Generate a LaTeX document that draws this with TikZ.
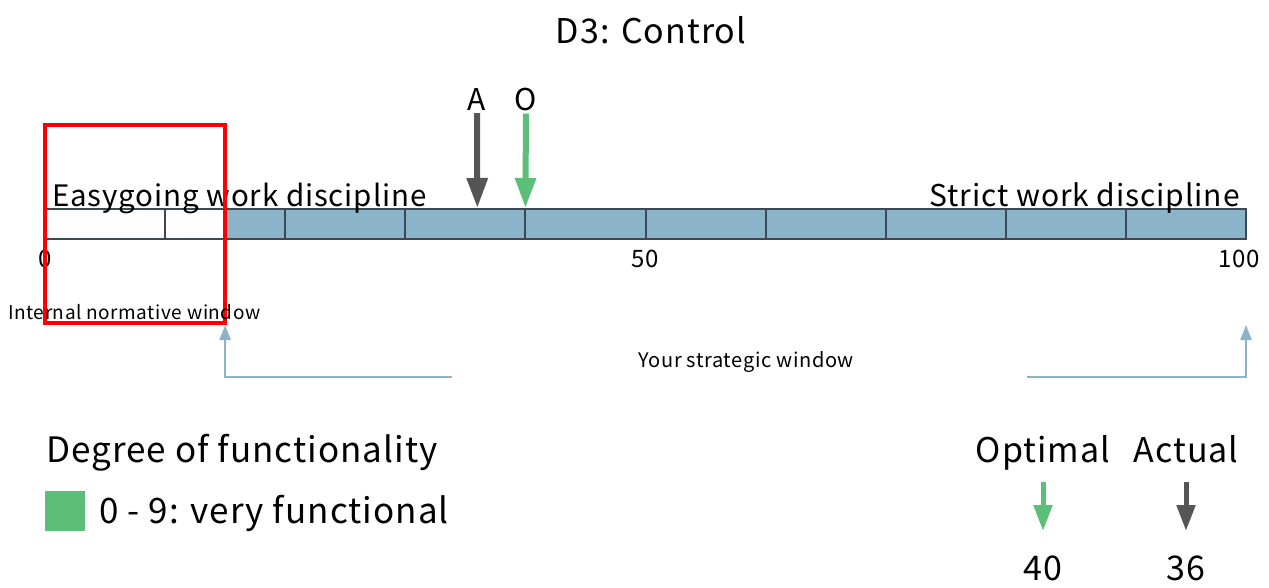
\documentclass[tikz,border=0pt]{standalone}
\usepackage{fontspec}
\setmainfont{Noto Sans CJK JP}[LetterSpace=3]
\usetikzlibrary{arrows.meta}

\definecolor{barblue}{HTML}{8BB4C9}
\definecolor{barline}{HTML}{3B4A52}
\definecolor{optgreen}{HTML}{5BBF78}
\definecolor{actgray}{HTML}{555555}
\definecolor{winblue}{HTML}{8BB4C9}

\begin{document}
\begin{tikzpicture}[x=1pt,y=-1pt,
    every node/.style={inner sep=0pt, text=black},
    marker/.style={line width=6pt, -{Triangle[width=20pt,length=30pt]}},
    smallmarker/.style={line width=5pt, -{Triangle[width=18pt,length=26pt]}},
    winarrow/.style={draw=winblue, line width=2.5pt, -{Triangle[width=11pt,length=15pt]}}]
        \def \xs {45}   % left end of the scale
        \def \u {12.01} % pixels per unit
        \def \btop {209}
        \def \bbot {239}

        \useasboundingbox (0,0) rectangle (1269,587);

        \node[font=\fontsize{34}{34}\selectfont] (title) at (651,30) {D3: Control};

        % the scale bar, blue from 15 on
        \fill[barblue] ({\xs+15*\u},\btop) rectangle ({\xs+100*\u},\bbot);
        \draw[barline, line width=2pt] (\xs,\btop) rectangle ({\xs+100*\u},\bbot);
        \foreach \v in {10,15,20,30,...,90}{
          \draw[barline, line width=2pt] ({\xs+\v*\u},\btop) -- ({\xs+\v*\u},\bbot);
        }
        \foreach \v in {0,36,40,100}{
          \coordinate (p\v) at ({\xs+\v*\u},{\btop-1});
        }

        \node[font=\fontsize{29.5}{30}\selectfont, anchor=base west] (easy) at (52,206) {Easygoing work discipline};
        \node[font=\fontsize{30}{30}\selectfont, anchor=base east] (strict) at (1240,206) {Strict work discipline};

        \node[font=\fontsize{24}{24}\selectfont, anchor=north] (n0) at (\xs,250) {0};
        \node[font=\fontsize{24}{24}\selectfont, anchor=north] (n50) at ({\xs+50*\u},250) {50};
        \node[font=\fontsize{24}{24}\selectfont, anchor=north east] (n100) at (1260,250) {100};

        % actual and optimal markers
        \node[font=\fontsize{30}{30}\selectfont] (A) at (477,100) {A};
        \node[font=\fontsize{30}{30}\selectfont] (O) at (526,100) {O};
        \draw[marker, actgray] (A.south)++(0,2) -- (p36);
        \draw[marker, optgreen] (O.south)++(0,2) -- (p40);

        % internal normative window
        \draw[red, line width=4.5pt] (45,125) rectangle (225,323);
        \node[font=\fontsize{19}{19}\selectfont, anchor=base west] (inw) at (8,319) {Internal normative window};

        % strategic window
        \coordinate (w15) at ({\xs+15*\u},325);
        \coordinate (w100) at ({\xs+100*\u},325);
        \coordinate (wl) at (452,377);
        \coordinate (wr) at (1027,377);
        \draw[winarrow] (wl) -| (w15);
        \draw[winarrow] (wr) -| (w100);
        \node[font=\fontsize{20}{20}\selectfont] (sw) at (746,362) {Your strategic window};

        % legend
        \node[font=\fontsize{35}{35}\selectfont, anchor=base west] (deg) at (46,462) {Degree of functionality};
        \node[fill=optgreen, minimum width=40pt, minimum height=40pt] (key) at (65,511) {};
        \node[font=\fontsize{35}{35}\selectfont, anchor=base west] (keytext) at (99,523) {0 - 9: very functional};

        \node[font=\fontsize{34}{34}\selectfont, anchor=base] (opt) at (1043,462) {Optimal};
        \node[font=\fontsize{34}{34}\selectfont, anchor=base] (act) at (1186,462) {Actual};
        \coordinate (opttip) at (1043,531);
        \coordinate (acttip) at (1186,531);
        \draw[smallmarker, optgreen] (1043,482) -- (opttip);
        \draw[smallmarker, actgray] (1186,482) -- (acttip);
        \node[font=\fontsize{34}{34}\selectfont] (optv) at (1043,568) {40};
        \node[font=\fontsize{34}{34}\selectfont] (actv) at (1186,568) {36};
\end{tikzpicture}
\end{document}
